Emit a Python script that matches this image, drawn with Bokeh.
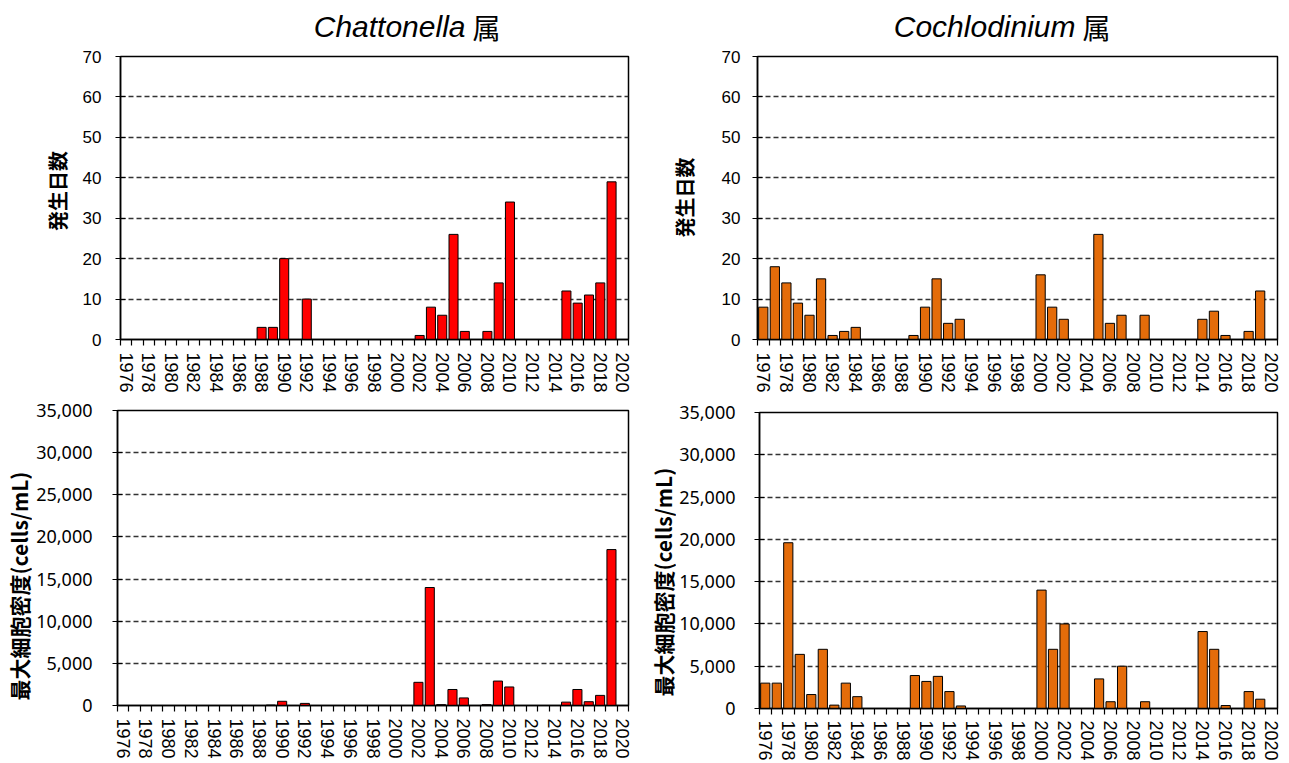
import math

from bokeh.plotting import figure
from bokeh.layouts import row, column
from bokeh.models import Range1d, FixedTicker, NumeralTickFormatter
from bokeh.core.properties import value
from bokeh.embed import file_html
from bokeh.resources import INLINE

# ---- data -------------------------------------------------------------
years = list(range(1976, 2021))

# occurrence days per year (1976 ... 2020)
chattonella_days = [
    0, 0, 0, 0, 0, 0, 0, 0, 0, 0,
    0, 0, 3, 3, 20, 0, 10, 0, 0, 0,
    0, 0, 0, 0, 0, 0, 1, 8, 6, 26,
    2, 0, 2, 14, 34, 0, 0, 0, 0, 12,
    9, 11, 14, 39, 0,
]
cochlodinium_days = [
    8, 18, 14, 9, 6, 15, 1, 2, 3, 0,
    0, 0, 0, 1, 8, 15, 4, 5, 0, 0,
    0, 0, 0, 0, 16, 8, 5, 0, 0, 26,
    4, 6, 0, 6, 0, 0, 0, 0, 5, 7,
    1, 0, 2, 12, 0,
]

# maximum cell density per year, cells/mL (1976 ... 2020)
chattonella_cells = [
    0, 0, 0, 0, 0, 0, 0, 0, 0, 0,
    0, 0, 0, 50, 500, 0, 250, 0, 0, 0,
    0, 0, 0, 0, 0, 0, 2750, 14000, 100, 1900,
    900, 0, 100, 2900, 2200, 0, 0, 0, 0, 400,
    1900, 450, 1200, 18500, 0,
]
cochlodinium_cells = [
    3000, 3000, 19600, 6400, 1650, 7000, 400, 3000, 1400, 0,
    0, 0, 0, 3900, 3200, 3800, 2000, 300, 0, 0,
    0, 0, 0, 0, 14000, 7000, 10000, 0, 0, 3500,
    800, 5000, 0, 800, 0, 0, 0, 0, 9100, 7000,
    350, 0, 2000, 1100, 0,
]

label_years = years[::2]
days_ticks = [0, 10, 20, 30, 40, 50, 60, 70]
cells_ticks = [0, 5000, 10000, 15000, 20000, 25000, 30000, 35000]

days_label = "発生日数"
cells_label = "最大細胞密度(cells/mL)"
genus_left = "Chattonella"
genus_right = "Cochlodinium"
genus_suffix = "属"

RED = "#FF0000"
ORANGE = "#E46C0A"

LATIN = "Liberation Sans"
CJK = "Noto Sans CJK JP"


def bare(width, height):
    """A figure without axes or grid, whose data units are pixels."""
    f = figure(width=width, height=height, min_border=0,
               x_range=Range1d(0, width), y_range=Range1d(0, height),
               x_axis_location=None, y_axis_location=None,
               output_backend="svg", toolbar_location=None, title=None)
    f.outline_line_color = None
    f.xgrid.visible = False
    f.ygrid.visible = False
    f.background_fill_color = "white"
    f.border_fill_color = "white"
    return f


def header(width, height, genus, split_x, cy):
    h = bare(width, height)
    h.text(x=[split_x], y=[cy], text=[genus], text_font=value(LATIN),
           text_font_style="italic", text_font_size="30px",
           text_align="right", text_baseline="middle", text_color="black")
    h.text(x=[split_x + 7], y=[cy], text=[genus_suffix], text_font=value(CJK),
           text_font_size="28px", text_align="left", text_baseline="middle",
           text_color="black")
    return h


def strip(label, width, height, cx, cy, size):
    s = bare(width, height)
    s.text(x=[cx], y=[cy], text=[label], angle=math.pi / 2,
           text_font=value(CJK), text_font_style="bold", text_font_size=size,
           text_align="center", text_baseline="middle", text_color="black")
    return s


def panel(values, color, ticks, width, height, left, right, top, bottom,
          tick_standoff, tick_font, tick_size, x_standoff, cells=False):
    p = figure(
        width=width, height=height,
        min_border_left=left, min_border_right=right,
        min_border_top=top, min_border_bottom=bottom,
        x_range=Range1d(years[0] - 0.5, years[-1] + 0.5),
        y_range=Range1d(ticks[0], ticks[-1]),
        output_backend="svg", toolbar_location=None, title=None,
    )
    p.vbar(x=years, top=values, bottom=0, width=0.8,
           fill_color=color, line_color="black", line_width=1)

    p.background_fill_color = "white"
    p.border_fill_color = "white"
    p.outline_line_color = "black"
    p.outline_line_width = 1.5

    # x axis: labels on even years, tick marks on category boundaries
    xa = p.xaxis[0]
    xa.ticker = FixedTicker(ticks=label_years,
                            minor_ticks=[y - 0.5 for y in years] + [years[-1] + 0.5])
    xa.major_label_overrides = {y: str(y) for y in label_years}
    xa.major_label_orientation = "vertical"
    xa.major_tick_out = 0
    xa.major_tick_in = 0
    xa.minor_tick_out = 6
    xa.minor_tick_in = 0
    xa.minor_tick_line_color = "black"
    xa.minor_tick_line_width = 1.2
    xa.axis_line_color = "black"
    xa.axis_line_width = 1.5
    xa.axis_label_standoff = 0
    xa.major_label_standoff = x_standoff
    xa.major_label_text_font = LATIN
    xa.major_label_text_font_size = "18px"
    xa.major_label_text_color = "black"

    ya = p.yaxis[0]
    ya.ticker = FixedTicker(ticks=ticks)
    if cells:
        ya.formatter = NumeralTickFormatter(format="0,0")
    ya.major_tick_out = 5
    ya.major_tick_in = 5
    ya.major_tick_line_color = "black"
    ya.major_tick_line_width = 1.2
    ya.minor_tick_out = 0
    ya.minor_tick_in = 0
    ya.axis_line_color = "black"
    ya.axis_line_width = 1.5
    ya.major_label_standoff = tick_standoff
    ya.major_label_text_font = tick_font
    ya.major_label_text_font_size = tick_size
    ya.major_label_text_color = "black"

    p.xgrid.visible = False
    p.ygrid.ticker = FixedTicker(ticks=ticks)
    p.ygrid.grid_line_color = "#333333"
    p.ygrid.grid_line_dash = "5 3"
    p.ygrid.grid_line_width = 1.3
    return p


# left column: Chattonella
head_l = header(640, 46, genus_left, 465, 20)
tl = panel(chattonella_days, RED, days_ticks,
           565, 349, 45, 12, 10, 56, 14, LATIN, "17px", 7)
tl_lab = strip(days_label, 75, 349, 57, 183, "20px")
bl = panel(chattonella_cells, RED, cells_ticks,
           608, 368, 85, 12, 15, 58, 20, "Noto Sans", "18px", 7, cells=True)
bl_lab = strip(cells_label, 32, 368, 18, 149, "21px")

# right column: Cochlodinium
head_r = header(649, 46, genus_right, 435, 20)
tr = panel(cochlodinium_days, ORANGE, days_ticks,
           589, 349, 57, 12, 10, 56, 12, LATIN, "17px", 7)
tr_lab = strip(days_label, 60, 349, 44, 175, "20px")
br = panel(cochlodinium_cells, ORANGE, cells_ticks,
           613, 368, 83, 12, 17, 55, 19, "Noto Sans", "18px", 6, cells=True)
br_lab = strip(cells_label, 36, 368, 22, 157, "21px")

layout = row(
    column(head_l, row(tl_lab, tl), row(bl_lab, bl)),
    column(head_r, row(tr_lab, tr), row(br_lab, br)),
)

open("out.html", "w").write(file_html(layout, INLINE))
